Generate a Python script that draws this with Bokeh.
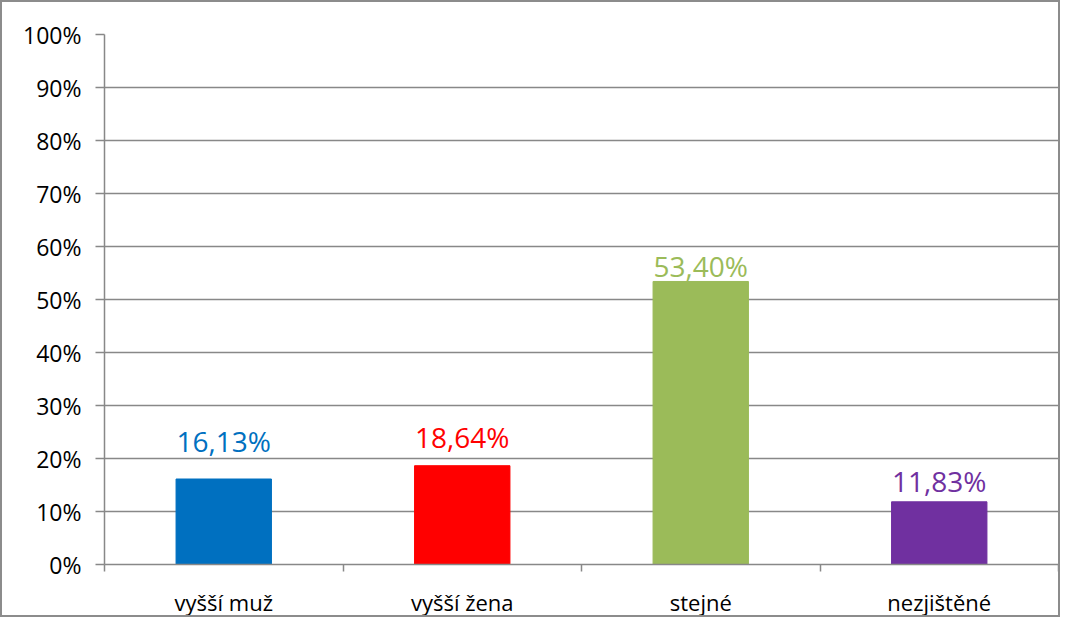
from bokeh.plotting import figure
from bokeh.models import ColumnDataSource, FixedTicker, NumeralTickFormatter, Range1d
from bokeh.core.properties import value
from bokeh.embed import file_html
from bokeh.resources import INLINE

categories = ["vyšší muž", "vyšší žena", "stejné", "nezjištěné"]
percent_values = [16.13, 18.64, 53.40, 11.83]
bar_colors = ["#0070C0", "#FF0000", "#9BBB59", "#7030A0"]
y_ticks = [0.0, 0.1, 0.2, 0.3, 0.4, 0.5, 0.6, 0.7, 0.8, 0.9, 1.0]

# style: vertical pixel offset of each data label above its bar
label_gaps = [38, 29, 15, 21]

FONT = "Open Sans"
GRID = "#888888"

xs = [i + 0.5 for i in range(len(categories))]
src = ColumnDataSource(dict(
    x=xs,
    top=[v / 100 for v in percent_values],
    color=bar_colors,
    label=[f"{v:.2f}%".replace(".", ",") for v in percent_values],
    yoff=[-g for g in label_gaps],
))

p = figure(width=1060, height=617, output_backend="svg", toolbar_location=None,
           x_range=Range1d(0, len(categories)), y_range=Range1d(0, 1),
           min_border_left=102, min_border_right=4, min_border_top=32, min_border_bottom=50)
p.styles = {"border": "2px solid #8c8c8c"}
p.outline_line_color = None
p.background_fill_color = "white"
p.border_fill_color = "white"

p.vbar(x="x", top="top", width=0.4, color="color", source=src)
p.text(x="x", y="top", text="label", text_color="color", source=src,
       text_align="center", text_baseline="alphabetic", y_offset="yoff",
       text_font=value(FONT), text_font_size="28px")

# y axis
p.yaxis.ticker = FixedTicker(ticks=y_ticks)
p.yaxis.formatter = NumeralTickFormatter(format="0%")
p.yaxis.axis_line_color = GRID
p.yaxis.axis_line_width = 1.5
p.yaxis.major_tick_line_color = GRID
p.yaxis.major_tick_line_width = 1.5
p.yaxis.major_tick_out = 9
p.yaxis.major_tick_in = 0
p.yaxis.minor_tick_line_color = None
p.yaxis.major_label_standoff = 14
p.yaxis.major_label_text_font = FONT
p.yaxis.major_label_text_font_size = "23px"
p.yaxis.major_label_text_color = "black"

# x axis
p.xaxis.ticker = FixedTicker(ticks=xs, minor_ticks=list(range(len(categories) + 1)))
p.xaxis.major_label_overrides = {x: c for x, c in zip(xs, categories)}
p.xaxis.axis_line_color = GRID
p.xaxis.axis_line_width = 1.5
p.xaxis.major_tick_line_color = None
p.xaxis.minor_tick_line_color = GRID
p.xaxis.minor_tick_line_width = 1.5
p.xaxis.minor_tick_out = 7
p.xaxis.minor_tick_in = 0
p.xaxis.major_label_standoff = 15
p.xaxis.major_label_text_font = FONT
p.xaxis.major_label_text_font_size = "22px"
p.xaxis.major_label_text_color = "black"

p.xgrid.grid_line_color = None
p.ygrid.grid_line_color = GRID
p.ygrid.grid_line_width = 1.5

open("out.html", "w").write(file_html(p, INLINE))
